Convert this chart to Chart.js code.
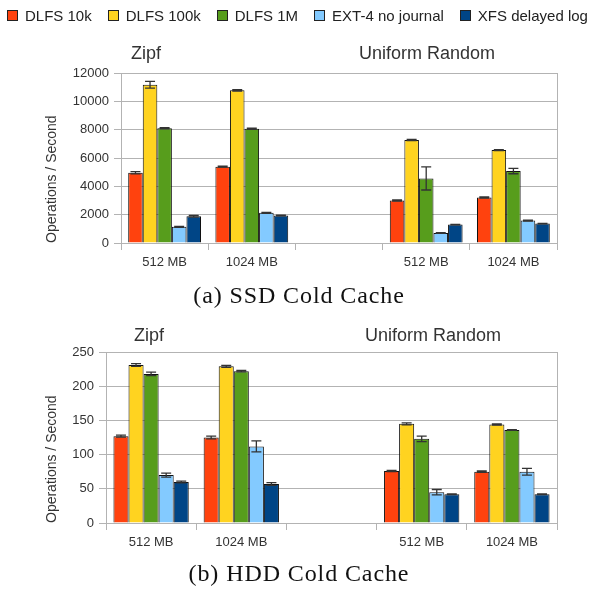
<!DOCTYPE html>
<html>
<head>
<meta charset="utf-8">
<script src="https://cdn.jsdelivr.net/npm/chart.js@4.4.1/dist/chart.umd.min.js"></script>
<style>
  body { margin:0; width:593px; height:589px; background:#fff; overflow:hidden; position:relative;
         font-family:"Liberation Sans", Arial, sans-serif; }
  canvas { position:absolute; left:0; }
  #chartA { top:20px; }
  #chartB { top:300px; }
  #legend { position:absolute; left:7px; top:8px; display:flex; white-space:nowrap;
            font-size:15px; line-height:15px; color:#222; z-index:2; }
  .item { display:flex; align-items:center; margin-right:16px; }
  .box { width:9px; height:9px; border:1px solid #222; margin-right:7px; }
  .grp { position:absolute; font-size:18px; line-height:18px; color:#333; text-align:center; z-index:2; }
  .cap { position:absolute; left:0; width:598px; text-align:center; z-index:2;
         font-family:"Liberation Serif", "Times New Roman", serif; font-size:24px; line-height:24px;
         letter-spacing:0.9px; color:#111; }
</style>
</head>
<body>
<div id="legend"></div>

<div class="grp" style="left:106px; top:44px; width:80px;">Zipf</div>
<div class="grp" style="left:347px; top:44px; width:160px;">Uniform Random</div>
<div class="cap" style="top:283px;">(a) SSD Cold Cache</div>

<div class="grp" style="left:109px; top:326px; width:80px;">Zipf</div>
<div class="grp" style="left:353px; top:326px; width:160px;">Uniform Random</div>
<div class="cap" style="top:561px;">(b) HDD Cold Cache</div>

<canvas id="chartA" width="593" height="280"></canvas>
<canvas id="chartB" width="593" height="280"></canvas>

<script>
// categories (the empty one is the gap between Zipf and Uniform Random)
const categories = ['512 MB', '1024 MB', '', '512 MB', '1024 MB'];
const seriesNames = ['DLFS 10k', 'DLFS 100k', 'DLFS 1M', 'EXT-4 no journal', 'XFS delayed log'];
const seriesColors = ['#ff420e', '#ffd320', '#579d1c', '#83caff', '#004586'];

// (a) SSD cold cache, operations / second
const ssd10k  = [4960, 5390, null, 3000, 3210];
const ssd100k = [11170, 10780, null, 7270, 6560];
const ssd1M   = [8100, 8060, null, 4560, 5080];
const ssdExt4 = [1140, 2130, null, 710, 1580];
const ssdXfs  = [1890, 1940, null, 1300, 1370];
const ssdErr10k  = [80, 40, 0, 50, 40];
const ssdErr100k = [240, 50, 0, 40, 30];
const ssdErr1M   = [40, 40, 0, 820, 190];
const ssdErrExt4 = [30, 30, 0, 20, 30];
const ssdErrXfs  = [60, 30, 0, 20, 20];
const ssdYTicks = [0, 2000, 4000, 6000, 8000, 10000, 12000];

// (b) HDD cold cache, operations / second
const hdd10k  = [127, 125, null, 76, 75];
const hdd100k = [231, 229, null, 145, 144];
const hdd1M   = [218, 222, null, 123, 136];
const hddExt4 = [70, 112, null, 45, 75];
const hddXfs  = [60, 57, null, 42, 42];
const hddErr10k  = [1.5, 2, 0, 1, 1];
const hddErr100k = [2, 1.5, 0, 1.5, 0.8];
const hddErr1M   = [2.5, 1, 0, 4, 0.5];
const hddErrExt4 = [3, 8, 0, 4, 5];
const hddErrXfs  = [1.2, 2, 0, 0.5, 0.5];
const hddYTicks = [0, 50, 100, 150, 200, 250];

// legend
const legend = document.getElementById('legend');
seriesNames.forEach((name, i) => {
  const it = document.createElement('div');
  it.className = 'item';
  it.innerHTML = `<span class="box" style="background:${seriesColors[i]}"></span><span>${name}</span>`;
  legend.appendChild(it);
});

const GRID = '#b3b3b3';

// error bars + right frame line
const errorBars = {
  id: 'errorBars',
  beforeDatasetsDraw(chart) {
    const { ctx, chartArea } = chart;
    ctx.save();
    ctx.strokeStyle = GRID;
    ctx.lineWidth = 1;
    const x = Math.round(chartArea.right) + 0.5;
    ctx.beginPath();
    ctx.moveTo(x, chartArea.top);
    ctx.lineTo(x, chartArea.bottom);
    ctx.stroke();
    ctx.restore();
  },
  afterDatasetsDraw(chart) {
    const { ctx } = chart;
    const y = chart.scales.y;
    ctx.save();
    ctx.strokeStyle = '#333';
    ctx.lineWidth = 1.3;
    chart.data.datasets.forEach((ds, i) => {
      const meta = chart.getDatasetMeta(i);
      meta.data.forEach((bar, j) => {
        const v = ds.data[j], e = ds.errors[j];
        if (v == null || !e) return;
        const top = y.getPixelForValue(v + e), bot = y.getPixelForValue(v - e);
        const x = bar.x, w = 5;
        ctx.beginPath();
        ctx.moveTo(x, top); ctx.lineTo(x, bot);
        ctx.moveTo(x - w, top); ctx.lineTo(x + w, top);
        ctx.moveTo(x - w, bot); ctx.lineTo(x + w, bot);
        ctx.stroke();
      });
    });
    ctx.restore();
  }
};

function makeChart(id, values, errors, yTicks, padTop, axisWidth) {
  new Chart(document.getElementById(id), {
    type: 'bar',
    data: {
      labels: categories,
      datasets: values.map((vals, i) => ({
        label: seriesNames[i],
        data: vals,
        errors: errors[i],
        backgroundColor: seriesColors[i],
        borderColor: '#111',
        borderWidth: 1,
        categoryPercentage: 0.835,
        barPercentage: 1.0
      }))
    },
    options: {
      responsive: false,
      animation: false,
      layout: { padding: { top: padTop, bottom: 17, left: 0, right: 36 } },
      plugins: { legend: { display: false }, tooltip: { enabled: false } },
      scales: {
        x: {
          afterFit(scale) { scale.height = 40; },
          grid: { display: true, drawOnChartArea: false, tickLength: 7, color: GRID },
          border: { color: GRID },
          ticks: { font: { family: 'Liberation Sans', size: 13 }, color: '#333', padding: 5,
                   autoSkip: false, maxRotation: 0 }
        },
        y: {
          min: yTicks[0],
          max: yTicks[yTicks.length - 1],
          afterFit(scale) { scale.width = axisWidth; },
          grid: { color: GRID, tickLength: 7 },
          border: { color: GRID },
          ticks: { stepSize: yTicks[1] - yTicks[0], font: { family: 'Liberation Sans', size: 13 },
                   color: '#333', padding: 5, callback: v => String(v) },
          title: { display: true, text: 'Operations / Second', align: 'start', color: '#333',
                   font: { family: 'Liberation Sans', size: 14 }, padding: { top: 44, bottom: 0 } }
        }
      }
    },
    plugins: [errorBars]
  });
}

makeChart('chartA',
  [ssd10k, ssd100k, ssd1M, ssdExt4, ssdXfs],
  [ssdErr10k, ssdErr100k, ssdErr1M, ssdErrExt4, ssdErrXfs],
  ssdYTicks, 53, 121);

makeChart('chartB',
  [hdd10k, hdd100k, hdd1M, hddExt4, hddXfs],
  [hddErr10k, hddErr100k, hddErr1M, hddErrExt4, hddErrXfs],
  hddYTicks, 52, 106);
</script>
</body>
</html>
